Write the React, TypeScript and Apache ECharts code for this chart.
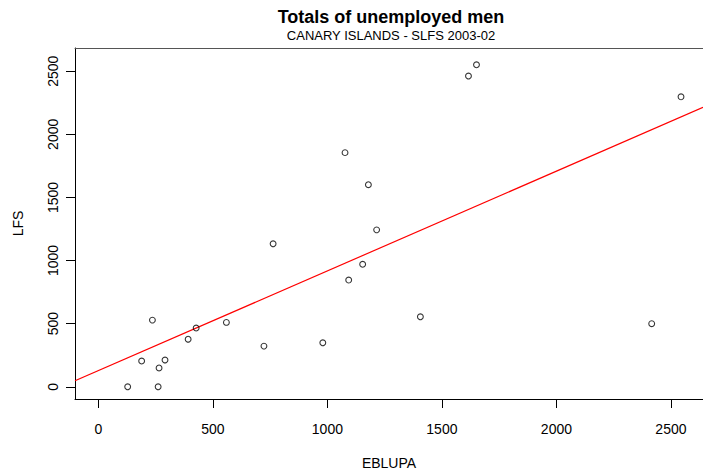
import React, { useEffect, useRef } from "react";
import * as echarts from "echarts";

// EBLUPA (x) and LFS (y) totals of unemployed men
const eblupa = [128, 261, 236, 189, 265, 291, 392, 427, 559, 723, 763, 980, 1077, 1093, 1154, 1179, 1215, 1406, 1616, 1651, 2416, 2544];
const lfs = [0, 0, 528, 204, 149, 212, 377, 465, 510, 322, 1133, 348, 1855, 845, 970, 1601, 1243, 554, 2462, 2551, 500, 2297];

// fitted line
const fitIntercept = 128;
const fitSlope = 0.79;

const xTicks = [0, 500, 1000, 1500, 2000, 2500];
const yTicks = [0, 500, 1000, 1500, 2000, 2500];
const xDomain = [-102, 2640];
const yDomain = [-97, 2684];

const FONT = "'Liberation Sans', Arial, Helvetica, sans-serif";

export default function App() {
  const ref = useRef<HTMLDivElement>(null);
  useEffect(() => {
    if (!ref.current) return;
    document.body.style.margin = "0";
    const chart = echarts.init(ref.current, null, { renderer: "svg" });
    const points = eblupa.map((x, i) => [x, lfs[i]]);
    const lineData = xDomain.map((x) => [x, fitIntercept + fitSlope * x]);
    const fmt = (v: number) => String(v);
    chart.setOption({
      animation: false,
      backgroundColor: "#ffffff",
      title: [
        {
          text: "Totals of unemployed men",
          left: 391,
          top: 8,
          padding: 0,
          textAlign: "center",
          textStyle: { fontFamily: FONT, fontSize: 18, fontWeight: "bold", color: "#000" },
        },
        {
          text: "CANARY ISLANDS - SLFS 2003-02",
          left: 391,
          top: 29,
          padding: 0,
          textAlign: "center",
          textStyle: { fontFamily: FONT, fontSize: 13, fontWeight: "normal", color: "#000" },
        },
      ],
      grid: { left: 75, right: 0, top: 48, bottom: 72, containLabel: false },
      xAxis: [
        {
          type: "value",
          min: xDomain[0],
          max: xDomain[1],
          position: "bottom",
          name: "EBLUPA",
          nameLocation: "middle",
          nameGap: 57,
          nameTextStyle: { fontFamily: FONT, fontSize: 14, color: "#000" },
          axisLine: { show: true, onZero: false, lineStyle: { color: "#000", width: 1 } },
          axisTick: { show: true, length: 9, lineStyle: { color: "#000" }, customValues: xTicks },
          axisLabel: { fontFamily: FONT, fontSize: 14, color: "#000", margin: 23, customValues: xTicks, formatter: fmt },
          splitLine: { show: false },
        },
        {
          type: "value",
          min: xDomain[0],
          max: xDomain[1],
          position: "top",
          axisLine: { show: true, onZero: false, lineStyle: { color: "#555", width: 1 } },
          axisTick: { show: false },
          axisLabel: { show: false },
          splitLine: { show: false },
        },
      ],
      yAxis: {
        type: "value",
        min: yDomain[0],
        max: yDomain[1],
        name: "LFS",
        nameLocation: "middle",
        nameRotate: 90,
        nameGap: 50,
        nameTextStyle: { fontFamily: FONT, fontSize: 14, color: "#000" },
        axisLine: { show: true, onZero: false, lineStyle: { color: "#000", width: 1 } },
        axisTick: { show: true, length: 9, lineStyle: { color: "#000" }, customValues: yTicks },
        axisLabel: { fontFamily: FONT, fontSize: 14, color: "#000", rotate: 90, margin: 15, customValues: yTicks, formatter: fmt },
        splitLine: { show: false },
      },
      series: [
        {
          type: "line",
          data: lineData,
          symbol: "none",
          lineStyle: { color: "#ff0000", width: 1.2 },
          clip: true,
          silent: true,
          z: 1,
        },
        {
          type: "scatter",
          data: points,
          symbol: "circle",
          symbolSize: 5.8,
          itemStyle: { color: "rgba(255,255,255,0)", borderColor: "#000", borderWidth: 1.1 },
          z: 2,
        },
      ],
    });
    return () => chart.dispose();
  }, []);
  return <div ref={ref} style={{ width: 703, height: 475 }} />;
}
